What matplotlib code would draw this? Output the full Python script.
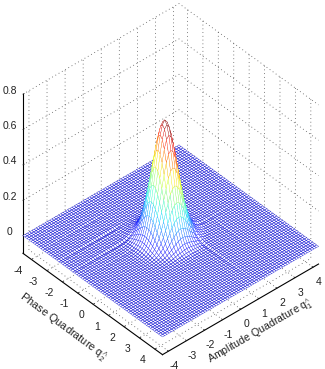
import numpy as np
import matplotlib
matplotlib.use("Agg")
import matplotlib.pyplot as plt
from mpl_toolkits.mplot3d import proj3d

plt.rcParams['font.family'] = ['Liberation Sans', 'DejaVu Sans']
plt.rcParams['mathtext.fontset'] = 'custom'
plt.rcParams['mathtext.rm'] = 'Liberation Sans'
plt.rcParams['mathtext.it'] = 'Liberation Sans'
plt.rcParams['mathtext.default'] = 'regular'

tick_q = [-4, -3, -2, -1, 0, 1, 2, 3, 4]
tick_z = [0, 0.2, 0.4, 0.6, 0.8]
tick_z_labels = ['0', '0.2', '0.4', '0.6', '0.8']
label_q1 = r'Amplitude Quadrature q$_{1}^{\wedge}$'
label_q2 = r'Phase Quadrature q$_{2}^{\wedge}$'

q1_range = (-4.33, 4.30)
q2_range = (-4.55, 4.50)
n_lines = 71
peak_height = 0.66

rise = [.0003, .0008, .0018, .0041, .0088, .018, .034, .061, .104, .167, .254, .365, .497, .639, .777, .894, .972]
q1_profile = [0]*18 + rise + [1] + rise[::-1] + [0]*18
q2_profile = [0]*15 + rise + [1] + rise[::-1] + [0]*21

low_q1_reach = [.3, .3, .35, .35, .4, .4, .45, .5, .5, .55, .6, .6, .65, .65, .7, .75, .8, .85, .9, 1,
                1, 1, 1, 1, 1, .8, .6, .4, .2, .1] + [0]*41
high_q1_reach = [0]*40 + [.2, .5, .8, 1, 1, .95, .9, .85, .8, .7, .65, .6, .55, .5, .45, .4, .35, .35,
                          .3, .3, .25, .2, .2, .15, .15, .1, .1, .1, .1, .1, .05]
high_q2_reach = [0]*37 + [.2, .5, .8, 1, 1, 1, .95, .9, .85, .8, .7, .65, .6, .55, .5, .5, .45,
                          .4, .4, .35, .3, .3, .25, .25, .2, .2, .15, .15, .1, .1, .1, .1, .1, .1]

# ripple heights on given mesh lines
q2_line_ripple_low = {17: .002, 18: -.005, 19: .002, 24: .002, 25: -.005, 26: .002, 10: -.003, 30: -.002}
q2_line_ripple_high = {34: .002, 35: -.004, 36: .002, 23: -.002}
q1_line_ripple_high = {41: .002, 42: -.006, 43: .002, 53: -.003}

Z = peak_height * np.outer(q2_profile, q1_profile)
for row, amp in q2_line_ripple_low.items():
    Z[row, :] += amp * np.array(low_q1_reach)
for row, amp in q2_line_ripple_high.items():
    Z[row, :] += amp * np.array(high_q1_reach)
for col, amp in q1_line_ripple_high.items():
    Z[:, col] += amp * np.array(high_q2_reach)

W, H = 325, 369
fig = plt.figure(figsize=(W/100, H/100), dpi=100, facecolor='white')
ax = fig.add_axes([0, 0, 1, 1], projection='3d', facecolor='none', computed_zorder=False)
ax.set_proj_type('ortho')
ax.view_init(elev=40.5, azim=-131.8)
ax.set_box_aspect((1, 1, 1.0))
ax.set_xlim(*q1_range)
ax.set_ylim(q2_range[1], q2_range[0])
ax.set_zlim(-0.1, 0.8)

q1 = np.linspace(*q1_range, n_lines)
q2 = np.linspace(*q2_range, n_lines)
Q1, Q2 = np.meshgrid(q1, q2)

# white sheet under the mesh hides the floor grid
base1, base2 = np.meshgrid(q1_range, q2_range)
ax.plot_surface(base1, base2, np.zeros((2, 2)), color='white', shade=False, linewidth=0, zorder=1)

norm = plt.Normalize(-0.05, 0.65)
cols = plt.cm.jet(norm(Z[:-1, :-1]))
surf = ax.plot_surface(Q1, Q2, Z, rstride=1, cstride=1, color='white', shade=False,
                       linewidth=0.22, antialiased=True, zorder=2)
faces = np.ones_like(cols)
faces[Z[:-1, :-1] < 0.008, 3] = 0
surf.set_facecolor(faces.reshape(-1, 4))
surf.set_edgecolor(cols.reshape(-1, 4))

ax.set_xticks(tick_q)
ax.set_yticks(tick_q)
ax.set_zticks(tick_z)
ax.set_xticklabels([str(t) for t in tick_q])
ax.set_yticklabels([str(t) for t in tick_q])
ax.set_zticklabels(tick_z_labels)
ax.tick_params(axis='x', labelsize=7.5, pad=-3, colors='#222222')
ax.tick_params(axis='y', labelsize=7.5, pad=-0.5, colors='#222222')
ax.tick_params(axis='z', labelsize=7.5, pad=-2, colors='#222222')
for t in ax.zaxis.get_major_ticks():
    t.label1.set_va('baseline')
for t in ax.yaxis.get_major_ticks():
    t.label1.set_va('baseline')
    t.label1.set_ha('right')

for axis in (ax.xaxis, ax.yaxis, ax.zaxis):
    axis.set_pane_color((1, 1, 1, 0))
    axis.pane.set_edgecolor((1, 1, 1, 0))
    axis._axinfo['grid'].update(color='#555555', linestyle=(0, (1, 3.5)), linewidth=0.6)
    axis._axinfo['axisline']['color'] = '#888888'
    axis._axinfo['axisline']['linewidth'] = 0.7
    axis._axinfo['tick']['inward_factor'] = 0.0
    axis._axinfo['tick']['outward_factor'] = 0.1
    axis._axinfo['tick']['linewidth'] = {True: 0.5, False: 0.4}
    axis._axinfo['tick']['color'] = '#777777'
ax.zaxis._axinfo['axisline']['linewidth'] = 1.6
ax.zaxis._axinfo['axisline']['color'] = '#b4b4b4'

ax.text2D(261/W, 1-331.5/H, label_q1, transform=fig.transFigure, fontsize=7.7, rotation=30,
          ha='center', va='center', rotation_mode='anchor', color='#222222')
ax.text2D(62/W, 1-328/H, label_q2, transform=fig.transFigure, fontsize=7.9, rotation=-36.5,
          ha='center', va='center', rotation_mode='anchor', color='#222222')

# fit the box into the picture using the four corners of the box at z=0
x0, x1 = q1_range
y0, y1 = q2_range
corners = [(x0, y0), (x0, y1), (x1, y1), (x1, y0)]
target = np.array([(23, H-236), (163, H-337), (320, H-245), (177, H-146)], float)
def project():
    fig.canvas.draw()
    M = ax.get_proj()
    pts = []
    for c in corners:
        x, y, _ = proj3d.proj_transform(c[0], c[1], 0, M)
        pts.append(ax.transData.transform((x, y)))
    return np.array(pts)
p = project()
scale = ((target[2, 0]-target[0, 0])/(p[2, 0]-p[0, 0]) + (target[3, 1]-target[1, 1])/(p[3, 1]-p[1, 1]))/2
pos = ax.get_position()
S = min(pos.width*W, pos.height*H)*scale
ax.set_position([0, 0, S/W, S/H])
p = project()
d = (target-p).mean(axis=0)
ax.set_position([d[0]/W, d[1]/H, S/W, S/H])

fig.savefig('out.png', dpi=100, facecolor='white')
